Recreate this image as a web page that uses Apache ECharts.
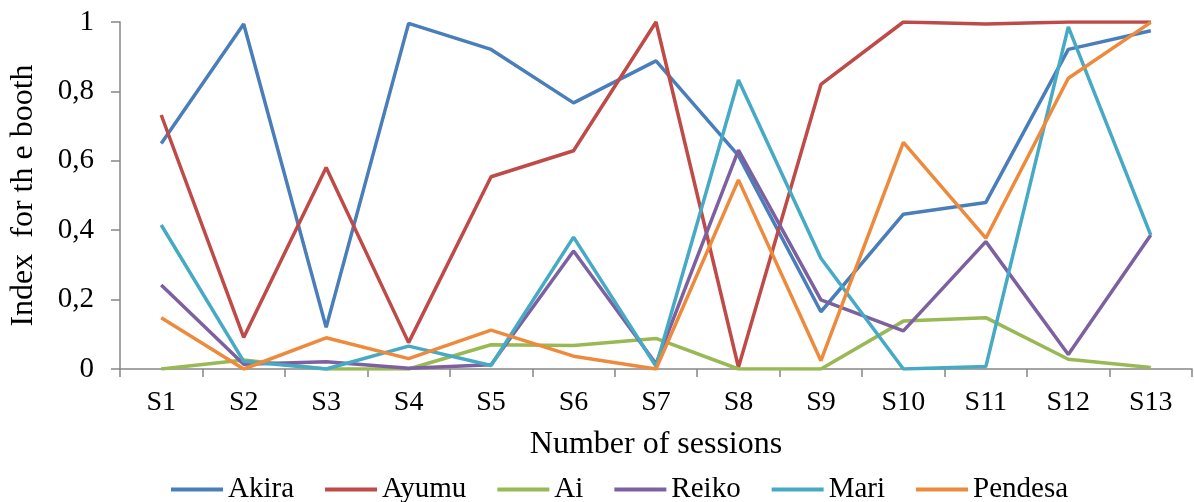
<!DOCTYPE html>
<html>
<head>
<meta charset="utf-8">
<script src="https://cdn.jsdelivr.net/npm/echarts@6/dist/echarts.min.js"></script>
<style>
  html, body { margin: 0; padding: 0; background: #fff; }
  #chart { width: 1194px; height: 502px; }
</style>
</head>
<body>
<div id="chart"></div>
<script>
// Session labels on the category axis
const sessions = ['S1','S2','S3','S4','S5','S6','S7','S8','S9','S10','S11','S12','S13'];

// Booth index per participant and session
const akira   = [0.650, 0.994, 0.120, 0.996, 0.921, 0.767, 0.888, 0.615, 0.165, 0.446, 0.480, 0.921, 0.975];
const ayumu   = [0.732, 0.091, 0.581, 0.076, 0.554, 0.629, 1.000, 0.005, 0.820, 1.000, 0.994, 1.000, 1.000];
const ai      = [0.000, 0.026, 0.000, 0.000, 0.070, 0.068, 0.088, 0.000, 0.000, 0.138, 0.148, 0.028, 0.004];
const reiko   = [0.242, 0.014, 0.021, 0.002, 0.012, 0.340, 0.015, 0.631, 0.199, 0.110, 0.367, 0.042, 0.386];
const mari    = [0.415, 0.022, 0.000, 0.066, 0.010, 0.380, 0.008, 0.833, 0.319, 0.000, 0.007, 0.986, 0.386];
const pendesa = [0.148, 0.000, 0.090, 0.030, 0.112, 0.037, 0.000, 0.545, 0.024, 0.653, 0.377, 0.838, 0.999];

const names  = ['Akira', 'Ayumu', 'Ai', 'Reiko', 'Mari', 'Pendesa'];
const values = [akira, ayumu, ai, reiko, mari, pendesa];
const colors = ['#4A7EBB', '#BE4B48', '#98B954', '#7D60A0', '#46AAC5', '#EE8A3C'];

const serif = '"Liberation Serif", "Times New Roman", serif';
const axisGray = '#868686';

const chart = echarts.init(document.getElementById('chart'), null, { renderer: 'canvas' });

chart.setOption({
  animation: false,
  backgroundColor: '#ffffff',
  color: colors,
  textStyle: { fontFamily: serif, color: '#000' },
  // fixed plot rectangle; labels and names sit outside it without resizing it
  grid: { left: 120, right: 2, top: 22, bottom: 133, containLabel: false, outerBoundsMode: 'none' },
  legend: {
    data: names,
    left: 166,
    top: 470,
    icon: 'rect',
    itemWidth: 52,
    itemHeight: 4,
    itemGap: 31,
    textStyle: { fontFamily: serif, fontSize: 29, color: '#000' }
  },
  xAxis: {
    type: 'category',
    data: sessions,
    boundaryGap: true,
    name: 'Number of sessions',
    nameLocation: 'middle',
    nameGap: 60,
    nameTextStyle: { fontFamily: serif, fontSize: 32, color: '#000' },
    axisLine: { show: true, lineStyle: { color: axisGray, width: 1.5 } },
    axisTick: { show: true, inside: false, length: 8, alignWithLabel: false, lineStyle: { color: axisGray, width: 1.5 } },
    axisLabel: { fontFamily: serif, fontSize: 28, color: '#000', margin: 20 },
    splitLine: { show: false }
  },
  yAxis: {
    type: 'value',
    min: 0,
    max: 1,
    interval: 0.2,
    name: 'Index  for th e booth',
    nameLocation: 'middle',
    nameGap: 80,
    nameRotate: 90,
    nameTextStyle: { fontFamily: serif, fontSize: 32, color: '#000' },
    axisLine: { show: true, lineStyle: { color: axisGray, width: 1.5 } },
    axisTick: { show: true, inside: false, length: 9, lineStyle: { color: axisGray, width: 1.5 } },
    axisLabel: {
      fontFamily: serif, fontSize: 29, color: '#000', margin: 26,
      formatter: v => String(Math.round(v * 10) / 10).replace('.', ',')
    },
    splitLine: { show: false }
  },
  series: names.map((n, i) => ({
    name: n,
    type: 'line',
    data: values[i],
    symbol: 'none',
    lineStyle: { width: 3.5, color: colors[i] },
    itemStyle: { color: colors[i] }
  }))
});
</script>
</body>
</html>
